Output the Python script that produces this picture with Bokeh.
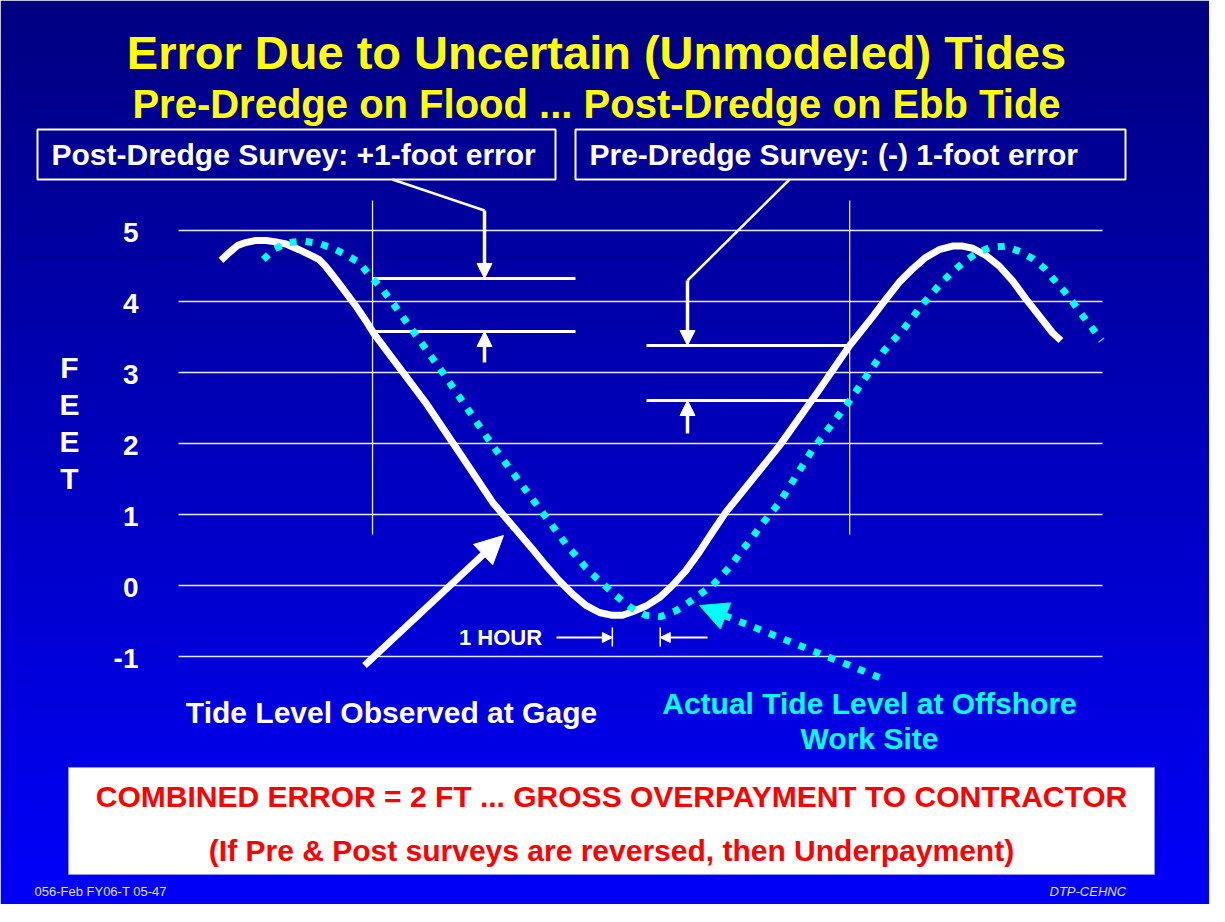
import numpy as np
from bokeh.plotting import figure
from bokeh.models import Range1d, Label, Arrow, NormalHead
from bokeh.core.properties import value
from bokeh.embed import file_html
from bokeh.resources import INLINE

# ---------------- data (hours, feet) ----------------
gage_hours = [1.01, 1.21, 1.41, 1.60, 1.84, 2.08, 2.32, 2.56, 2.87, 3.19, 3.35, 3.51,
              3.75, 3.98, 4.22, 4.46, 4.66, 5.88, 6.69, 7.48, 8.43, 8.75, 9.06, 9.38,
              9.70, 10.02, 10.33, 10.57, 10.81, 11.13, 11.45, 11.76, 12.08, 12.40,
              12.71, 13.03, 14.31, 15.26, 15.98, 16.52, 16.84, 17.16, 17.48, 17.79,
              18.11, 18.43, 18.67, 18.91, 19.22, 19.54, 19.86, 20.17, 20.49, 20.81, 21.01]
gage_feet = [4.58, 4.69, 4.79, 4.83, 4.86, 4.86, 4.84, 4.81, 4.73, 4.64, 4.59, 4.49,
             4.31, 4.13, 3.94, 3.73, 3.54, 2.58, 1.87, 1.17, 0.51, 0.28, 0.07, -0.12,
             -0.28, -0.38, -0.42, -0.42, -0.37, -0.29, -0.17, 0.00, 0.21, 0.47,
             0.75, 1.03, 1.97, 2.76, 3.38, 3.78, 4.03, 4.27, 4.46, 4.62,
             4.73, 4.78, 4.78, 4.75, 4.65, 4.50, 4.29, 4.04, 3.80, 3.56, 3.45]

site_hours = [2.02, 2.28, 2.61, 2.97, 3.33, 3.67, 3.98, 4.30, 4.52, 4.78, 5.00, 5.21,
              6.29, 7.48, 8.36, 8.79, 9.24, 9.46, 9.70, 9.96, 10.24, 10.51, 10.79,
              11.13, 11.47, 11.83, 12.12, 12.42, 12.71, 12.97, 13.19, 13.41, 13.64,
              13.86, 14.31, 15.10, 15.95, 16.80, 17.26, 17.70, 18.17, 18.43, 18.71,
              19.00, 19.32, 19.70, 20.04, 20.35, 20.63, 20.87, 21.11, 21.33, 21.54,
              21.76, 21.98]
site_feet = [4.59, 4.74, 4.83, 4.85, 4.82, 4.75, 4.66, 4.55, 4.39, 4.22, 4.06, 3.89,
             3.00, 1.97, 1.27, 0.93, 0.57, 0.42, 0.25, 0.10, -0.05, -0.19, -0.32,
             -0.42, -0.44, -0.36, -0.25, -0.12, 0.00, 0.16, 0.31, 0.49, 0.66,
             0.84, 1.17, 1.92, 2.58, 3.31, 3.61, 3.95, 4.27, 4.42, 4.56,
             4.68, 4.76, 4.78, 4.70, 4.60, 4.46, 4.29, 4.13, 3.96, 3.79,
             3.62, 3.45]

feet_ticks = [5, 4, 3, 2, 1, 0, -1]
feet_tick_labels = ["5", "4", "3", "2", "1", "0", "-1"]
grid_hours = [0.0, 22.0]
post_survey_hour = 4.62
pre_survey_hour = 15.98
axis_letters = ["F", "E", "E", "T"]

# ---------------- layout ----------------
W, H = 1209, 904
PAGE = 8
X0_PX, Y0_PX = 186, 593   # screen pixel of hour 0 / foot 0
PXH, PXF = 42.0, 71.0     # pixels per hour / per foot


def hx(px):
    return (px - X0_PX) / PXH


def fy(py):
    return (Y0_PX - py) / PXF


p = figure(width=W, height=H, output_backend="svg", toolbar_location=None,
           x_range=Range1d(hx(PAGE), hx(PAGE + W)),
           y_range=Range1d(fy(PAGE + H), fy(PAGE)),
           x_axis_location=None, y_axis_location=None, min_border=0)
p.grid.visible = False
p.outline_line_color = None
p.border_fill_color = "white"

# gradient background
N = 256
img = np.empty((N, 1), dtype=np.uint32)
view = img.view(dtype=np.uint8).reshape((N, 1, 4))
for i in range(N):
    t = i / (N - 1)  # 0 bottom, 1 top
    view[i, 0, 0] = 0
    view[i, 0, 1] = 0
    view[i, 0, 2] = int(round(250 - 122 * t))
    view[i, 0, 3] = 255
p.image_rgba(image=[img], x=hx(PAGE), y=fy(PAGE + H),
             dw=hx(PAGE + W) - hx(PAGE), dh=fy(PAGE) - fy(PAGE + H))

FONT = "Liberation Sans"

# grid lines
p.multi_line(xs=[grid_hours for _ in feet_ticks], ys=[[t, t] for t in feet_ticks],
             line_color="#E8E8FF", line_width=1.3)

# tick labels
p.text(x=[hx(146)] * len(feet_ticks), y=feet_ticks, text=feet_tick_labels,
       text_font=value(FONT), text_font_style="bold", text_font_size="28px",
       text_color="white", text_align="right", text_baseline="middle", y_offset=2)

# FEET
for k, ch in enumerate(axis_letters):
    p.add_layout(Label(x=hx(77), y=fy(375 + 37 * k), text=ch, text_font=FONT,
                       text_font_style="bold", text_font_size="30px", text_color="white",
                       text_align="center", text_baseline="middle"))

# survey vertical lines
v_top, v_bot = fy(208), fy(542)
p.segment(x0=[post_survey_hour, pre_survey_hour], x1=[post_survey_hour, pre_survey_hour],
          y0=[v_top, v_top], y1=[v_bot, v_bot], line_color="#E8E8FF", line_width=1.3)

post_site = float(np.interp(post_survey_hour, site_hours, site_feet))
post_gage = float(np.interp(post_survey_hour, gage_hours, gage_feet))
pre_gage = float(np.interp(pre_survey_hour, gage_hours, gage_feet))
pre_site = float(np.interp(pre_survey_hour, site_hours, site_feet))

p.segment(x0=[post_survey_hour, post_survey_hour, hx(654), hx(654)],
          x1=[hx(583), hx(583), pre_survey_hour, pre_survey_hour],
          y0=[post_site, post_gage, pre_gage, pre_site],
          y1=[post_site, post_gage, pre_gage, pre_site],
          line_color="white", line_width=3)

# gage curve & site curve
p.line(gage_hours, gage_feet, line_color="white", line_width=7,
       line_join="round", line_cap="butt")
p.line(site_hours, site_feet, line_color="#00FFFF", line_width=7,
       line_dash="7 9", line_cap="butt")

# leader lines from boxes
p.line([hx(400), hx(492)], [fy(187), fy(218)], line_color="white", line_width=2.5)
p.line([hx(797), hx(695)], [fy(187), fy(288)], line_color="white", line_width=2.5)


def arrow(x0, y0, x1, y1, size, lw, color="white", dash="solid"):
    p.add_layout(Arrow(end=NormalHead(size=size, fill_color=color, line_color=color),
                       x_start=x0, y_start=y0, x_end=x1, y_end=y1,
                       line_color=color, line_width=lw, line_dash=dash, line_cap="butt"))


arrow(hx(492), fy(218), hx(492), post_site, 15, 3.5)
arrow(hx(492), fy(370), hx(492), post_gage, 15, 3.5)
arrow(hx(695), fy(288), hx(695), pre_gage, 15, 3.5)
arrow(hx(695), fy(441), hx(695), pre_site, 15, 3.5)

# 1 hour lag
gage_min_h = gage_hours[int(np.argmin(gage_feet))]
site_min_h = site_hours[int(np.argmin(site_feet))]
arrow(hx(564), fy(645), gage_min_h, fy(645), 10, 2)
arrow(hx(715), fy(645), site_min_h, fy(645), 10, 2)
p.segment(x0=[gage_min_h, site_min_h], x1=[gage_min_h, site_min_h],
          y0=[fy(635)] * 2, y1=[fy(654)] * 2, line_color="white", line_width=1.5)
p.add_layout(Label(x=hx(508), y=fy(645), text="1 HOUR", text_font=FONT,
                   text_font_style="bold", text_font_size="22px", text_color="white",
                   text_align="center", text_baseline="middle"))

# big pointer arrows
arrow(hx(372), fy(673), hx(511), fy(543), 28, 7)
arrow(hx(887), fy(685), hx(707), fy(613), 28, 7, color="#00FFFF", dash="7 9")

# curve labels
p.add_layout(Label(x=hx(399), y=fy(720), text="Tide Level Observed at Gage", text_font=FONT,
                   text_font_style="bold", text_font_size="30px", text_color="white",
                   text_align="center", text_baseline="middle"))
p.add_layout(Label(x=hx(877), y=fy(711), text="Actual Tide Level at Offshore", text_font=FONT,
                   text_font_style="bold", text_font_size="30px", text_color="#00FFFF",
                   text_align="center", text_baseline="middle"))
p.add_layout(Label(x=hx(877), y=fy(746), text="Work Site", text_font=FONT,
                   text_font_style="bold", text_font_size="30px", text_color="#00FFFF",
                   text_align="center", text_baseline="middle"))

# titles
p.add_layout(Label(x=hx(604), y=fy(60), text="Error Due to Uncertain (Unmodeled) Tides",
                   text_font=FONT, text_font_style="bold", text_font_size="47px",
                   text_color="#FFFF00", text_align="center", text_baseline="middle"))
p.add_layout(Label(x=hx(604), y=fy(111), text="Pre-Dredge on Flood ... Post-Dredge on Ebb Tide",
                   text_font=FONT, text_font_style="bold", text_font_size="40px",
                   text_color="#FFFF00", text_align="center", text_baseline="middle"))

# survey boxes
p.quad(left=[hx(45), hx(583)], right=[hx(563), hx(1133)], top=[fy(137)] * 2,
       bottom=[fy(187)] * 2, fill_alpha=0, line_color="white", line_width=2)
p.add_layout(Label(x=hx(59), y=fy(162), text="Post-Dredge Survey: +1-foot error",
                   text_font=FONT, text_font_style="bold", text_font_size="30px",
                   text_color="white", text_align="left", text_baseline="middle"))
p.add_layout(Label(x=hx(597), y=fy(162), text="Pre-Dredge Survey: (-) 1-foot error",
                   text_font=FONT, text_font_style="bold", text_font_size="30px",
                   text_color="white", text_align="left", text_baseline="middle"))

# bottom box
p.quad(left=[hx(76)], right=[hx(1162)], top=[fy(775)], bottom=[fy(882)],
       fill_color="white", line_color="#9090FF", line_width=1)
p.add_layout(Label(x=hx(619), y=fy(804),
                   text="COMBINED ERROR = 2 FT ... GROSS OVERPAYMENT TO CONTRACTOR",
                   text_font=FONT, text_font_style="bold", text_font_size="30px",
                   text_color="#FF0000", text_align="center", text_baseline="middle"))
p.add_layout(Label(x=hx(619), y=fy(858),
                   text="(If Pre & Post surveys are reversed, then Underpayment)",
                   text_font=FONT, text_font_style="bold", text_font_size="30px",
                   text_color="#FF0000", text_align="center", text_baseline="middle"))

# footer
p.add_layout(Label(x=hx(42), y=fy(899), text="056-Feb FY06-T 05-47", text_font=FONT,
                   text_font_size="13px", text_color="#E0E0FF",
                   text_align="left", text_baseline="middle"))
p.add_layout(Label(x=hx(1057), y=fy(899), text="DTP-CEHNC", text_font=FONT,
                   text_font_style="italic", text_font_size="13px", text_color="#E0E0FF",
                   text_align="left", text_baseline="middle"))

open("out.html", "w").write(file_html(p, INLINE))
